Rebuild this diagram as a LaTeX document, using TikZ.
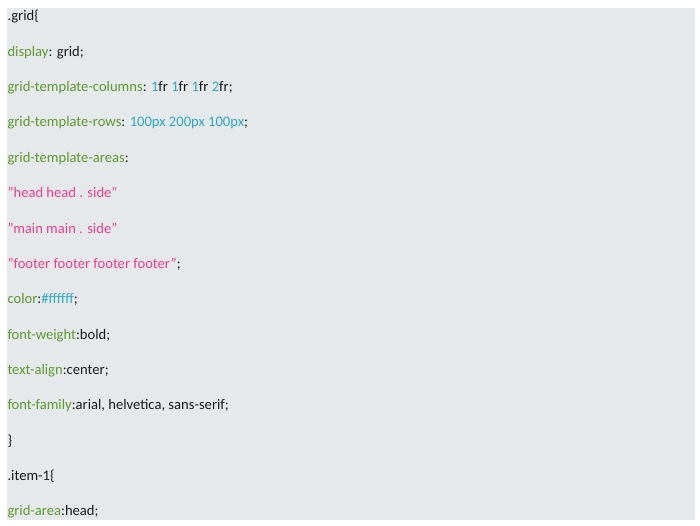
\documentclass[tikz,border=0pt]{standalone}
\usepackage{fontspec}
\setmainfont{Carlito}
\definecolor{bg}{HTML}{E6E9EC}
\definecolor{prop}{HTML}{5E9A2E}
\definecolor{num}{HTML}{2FA9C2}
\definecolor{str}{HTML}{E8408C}
\definecolor{txt}{HTML}{1A1A1A}
\tikzset{codeline/.style={anchor=base west, inner sep=0pt, outer sep=0pt, font=\fontsize{14.6}{16}\selectfont, text=txt}}
\newcommand{\pr}[1]{\textcolor{prop}{#1}}
\newcommand{\nm}[1]{\textcolor{num}{#1}}
\newcommand{\st}[1]{\textcolor{str}{#1}}
\newcommand{\qq}{\symbol{34}}
\begin{document}
\begin{tikzpicture}[x=1pt,y=-1pt]
\useasboundingbox (0,0) rectangle (700,526);
\fill[bg] (7,8) rectangle (694.5,520);
\node[codeline] (l0) at (7.5,20.9) {.grid\{};
\node[codeline] (l1) at (7.5,56.26) {\pr{display}: grid;};
\node[codeline] (l2) at (7.5,91.62) {\pr{grid-template-columns}: \nm{1}fr \nm{1}fr \nm{1}fr \nm{2}fr;};
\node[codeline] (l3) at (7.5,126.98) {\pr{grid-template-rows}: \nm{100px 200px 100px};};
\node[codeline] (l4) at (7.5,162.34) {\pr{grid-template-areas}:};
\node[codeline] (l5) at (7.5,197.7) {\st{\qq head head . side\qq}};
\node[codeline] (l6) at (7.5,233.06) {\st{\qq main main . side\qq}};
\node[codeline] (l7) at (7.5,268.42) {\st{\qq footer footer footer footer\qq};};
\node[codeline] (l8) at (7.5,303.78) {\pr{color}:\nm{\#ffffff};};
\node[codeline] (l9) at (7.5,339.14) {\pr{font-weight}:bold;};
\node[codeline] (l10) at (7.5,374.5) {\pr{text-align}:center;};
\node[codeline] (l11) at (7.5,409.86) {\pr{font-family}:arial, helvetica, sans-serif;};
\node[codeline] (l12) at (7.5,445.22) {\}};
\node[codeline] (l13) at (7.5,480.58) {.item-1\{};
\node[codeline] (l14) at (7.5,515.94) {\pr{grid-area}:head;};
\end{tikzpicture}
\end{document}
